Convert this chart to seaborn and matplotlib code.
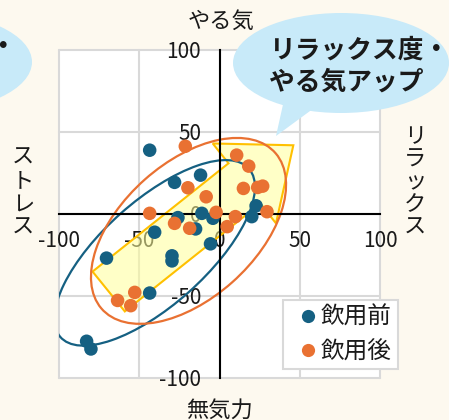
import matplotlib
matplotlib.use("Agg")
import matplotlib.pyplot as plt
import pandas as pd
import seaborn as sns
from matplotlib.patches import Ellipse, Polygon
from matplotlib.lines import Line2D
from matplotlib.transforms import Affine2D
from matplotlib.font_manager import FontProperties

# ---- data -------------------------------------------------------------
groups = ["飲用前", "飲用後"]
colors = ["#156082", "#E97132"]

before_x = [-43.5, -28.0, -11.8, 22.8, 20.1, -11.0, -25.9, -4.1, -40.4,
            -14.9, -5.6, -70.4, -29.6, -29.6, -43.5, -82.8, -80.1]
before_y = [38.9, 19.3, 23.7, 5.0, -1.6, 0.4, -2.2, -2.6, -11.1,
            -9.1, -18.2, -26.9, -25.5, -28.6, -48.2, -77.6, -82.3]

after_x = [-21.3, 10.7, 18.2, -19.7, 14.9, 23.8, 26.9, -8.3, -43.5,
           -2.1, 29.6, 9.9, -28.0, -18.6, 4.8, -52.8, -63.5, -55.3]
after_y = [41.3, 35.9, 29.2, 16.0, 15.6, 16.2, 17.0, 10.5, 0.4,
           1.0, 1.4, -1.6, -5.7, -8.7, -7.7, -47.8, -52.7, -55.9]

ticks = [-100, -50, 0, 50, 100]
axis_titles = {"top": "やる気", "bottom": "無気力", "left": "ストレス", "right": "リラックス"}
callout_lines = ["リラックス度・", "やる気アップ"]

# ---- style ------------------------------------------------------------
sns.set_theme(style="white")
plt.rcParams["font.family"] = ["Noto Sans CJK JP", "DejaVu Sans"]
plt.rcParams["axes.unicode_minus"] = False

W, H = 449, 420
BG = "#FDF9EF"
GRID = "#D9D9D9"
BUBBLE = "#C8EAF9"
INK = "#1a1a1a"

fig = plt.figure(figsize=(W / 100, H / 100), dpi=100, facecolor=BG)
ax = fig.add_axes([59 / W, 1 - 378 / H, (380 - 59) / W, (378 - 50) / H])
ax.set_facecolor("white")

# pixel coordinates measured from the top-left corner of the figure
pix = Affine2D().scale(1, -1).translate(0, H).scale(1 / 100) + fig.dpi_scale_trans

df = pd.DataFrame({
    "x": before_x + after_x,
    "y": before_y + after_y,
    "group": [groups[0]] * len(before_x) + [groups[1]] * len(after_x),
})

sns.scatterplot(data=df, x="x", y="y", hue="group",
                palette=dict(zip(groups, colors)), s=95, linewidth=0,
                legend=False, ax=ax, zorder=5)

ax.set_xlim(-100, 100)
ax.set_ylim(-100, 100)
ax.set_xlabel("")
ax.set_ylabel("")

# gridlines (outer ones form the frame)
for t in ticks:
    ax.axvline(t, color=GRID, lw=1.5, zorder=0.5, clip_on=False)
    ax.axhline(t, color=GRID, lw=1.5, zorder=0.5, clip_on=False)

# axes crossing at the origin
for s in ["top", "right"]:
    ax.spines[s].set_visible(False)
for s in ["left", "bottom"]:
    ax.spines[s].set_position(("data", 0))
    ax.spines[s].set_color("black")
    ax.spines[s].set_linewidth(1.5)
    ax.spines[s].set_zorder(3)
ax.set_xticks(ticks)
ax.set_yticks(ticks)
ax.tick_params(direction="inout", length=8.6, width=1.5, color="black",
               labelsize=15, labelcolor=INK)
ax.tick_params(axis="x", pad=7)
ax.tick_params(axis="y", pad=9)

# improvement arrow
arrow = Polygon([(-79.1, -35.1), (5.6, 30.9), (-4.2, 43.0), (46.0, 41.9),
                 (35.2, -5.7), (25.5, 6.4), (-59.0, -59.4)],
                closed=True, facecolor="#FFFF99", alpha=0.55,
                edgecolor="none", zorder=1)
ax.add_patch(arrow)
ax.add_patch(Polygon(arrow.get_xy(), closed=True, fill=False,
                     edgecolor="#FFC000", lw=1.5, zorder=1.2))

# spread ellipses
ax.add_patch(Ellipse((-40.4, -23.7), 156, 64, angle=41, fill=False,
                     edgecolor=colors[0], lw=1.6, zorder=2))
ax.add_patch(Ellipse((-19.3, -10.3), 144, 83, angle=41, fill=False,
                     edgecolor=colors[1], lw=1.6, zorder=2))

# axis titles
fig.text(221 / W, 1 - 21 / H, axis_titles["top"], fontsize=16,
         ha="center", va="center", color=INK)
fig.text(219 / W, 1 - 410 / H, axis_titles["bottom"], fontsize=16,
         ha="center", va="center", color=INK)
for i, ch in enumerate(axis_titles["left"]):
    fig.text(23 / W, 1 - (157 + 23.5 * i) / H, ch, fontsize=16,
             ha="center", va="center", color=INK)
for i, ch in enumerate(axis_titles["right"]):
    fig.text(415 / W, 1 - (137 + 22.5 * i) / H, ch, fontsize=16,
             ha="center", va="center", color=INK)

# callout bubbles
fig.add_artist(Ellipse((341, 63), 216, 100, transform=pix,
                       facecolor=BUBBLE, edgecolor="none", zorder=3))
fig.add_artist(Polygon([(284, 100), (276, 136), (325, 100)], closed=True,
                       transform=pix, facecolor=BUBBLE, edgecolor="none",
                       zorder=3))
fig.add_artist(Ellipse((-76, 62), 216, 100, transform=pix,
                       facecolor=BUBBLE, edgecolor="none", zorder=3))
fig.text(2 / W, 1 - 47 / H, "・", fontsize=19, fontweight="bold",
         ha="center", va="center", color=INK, zorder=4)
for i, line in enumerate(callout_lines):
    fig.text(269 / W, 1 - (50 + 32 * i) / H, line, fontsize=18.5,
             fontweight="bold", ha="left", va="center", color=INK,
             zorder=4)

# legend
handles = [Line2D([], [], marker="o", linestyle="", markersize=9.5,
                  markerfacecolor=c, markeredgewidth=0) for c in colors]
leg = ax.legend(handles, groups, loc="upper left",
                bbox_to_anchor=(283 / W, 1 - 300 / H),
                bbox_transform=fig.transFigure, borderaxespad=0,
                frameon=True, fancybox=False, framealpha=1,
                edgecolor=GRID, facecolor="white",
                prop=FontProperties(family=["Noto Sans CJK JP", "DejaVu Sans"], size=17),
                handlelength=1.6, handletextpad=-0.25, labelspacing=0.48,
                borderpad=0.25)
for t in leg.get_texts():
    t.set_color(INK)
leg.get_frame().set_linewidth(1.5)
leg.set_zorder(10)

fig.savefig("out.png", dpi=100, facecolor=BG)
